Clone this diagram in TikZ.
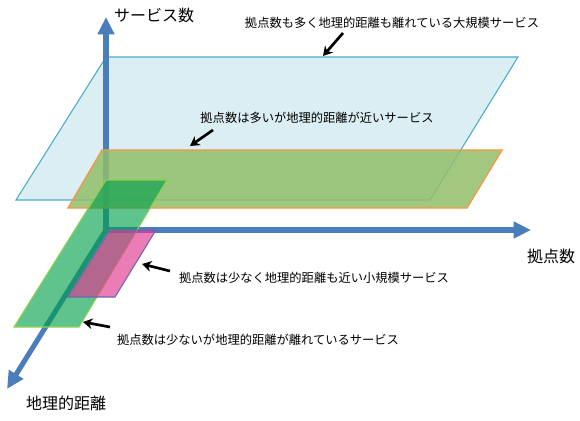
\documentclass[tikz,border=0pt]{standalone}
\usepackage{fontspec}
\setmainfont{Noto Sans CJK JP}
\usetikzlibrary{arrows.meta}
\definecolor{axisblue}{HTML}{4A7EBB}
\definecolor{bluefill}{HTML}{DBEEF4}
\definecolor{blueline}{HTML}{4BACC6}
\definecolor{greenfill}{HTML}{92BE6A}
\definecolor{orangeline}{HTML}{F79646}
\definecolor{stripfill}{HTML}{00A04A}
\definecolor{stripline}{HTML}{92D050}
\definecolor{pinkfill}{HTML}{E2358F}
\definecolor{pinkline}{HTML}{7066B0}

\begin{document}
\begin{tikzpicture}[x=0.75pt,y=-0.75pt,
    axis/.style={line width=3.8pt, axisblue, -{Triangle[length=13pt,width=12pt]}},
    note/.style={line width=2pt, -{Stealth[length=7pt,width=8pt]}},
    small/.style={font=\fontsize{9.2}{11}\selectfont},
    big/.style={font=\fontsize{12}{14}\selectfont}]
        \useasboundingbox (0,0) rectangle (580,420);
        % large plane
        \draw[fill=bluefill, draw=blueline, line width=0.8pt] (16,200) -- (430,200) -- (518,57) -- (106,57) -- cycle;
        % axes
        \coordinate (O) at (106,230);
        \coordinate (ytip) at (106,17);
        \coordinate (xtip) at (531,230);
        \coordinate (ztip) at (7,389);
        \draw[axis] (O) -- (ytip);
        \draw[axis] (O) -- (xtip);
        \draw[axis] (O) -- (ztip);
        % other planes
        \draw[fill=greenfill, fill opacity=0.85, draw=orangeline, line width=1pt] (68,208) -- (467,208) -- (502,150) -- (102,150) -- cycle;
        \draw[fill=stripfill, fill opacity=0.63, draw=stripline, line width=0.8pt] (14,327) -- (79,327) -- (167,180) -- (106,180) -- cycle;
        \draw[fill=pinkfill, fill opacity=0.65, draw=pinkline, line width=0.8pt] (68,297) -- (115,297) -- (156,230) -- (110,230) -- cycle;
        % axis labels
        \node[big] (ylabel) at (154,15) {サービス数};
        \node[big] (xlabel) at (551,256) {拠点数};
        \node[big] (zlabel) at (66,403) {地理的距離};
        % notes
        \node[small] (tbig) at (392,23) {拠点数も多く地理的距離も離れている大規模サービス};
        \node[small] (tnear) at (317,118) {拠点数は多いが地理的距離が近いサービス};
        \node[small] (tsmall) at (314,278) {拠点数は少なく地理的距離も近い小規模サービス};
        \node[small] (tfar) at (258,340) {拠点数は少ないが地理的距離が離れているサービス};
        \coordinate (a1) at (343,33);  \coordinate (b1) at (323,56);
        \coordinate (a2) at (213,130); \coordinate (b2) at (190,146);
        \coordinate (a3) at (170,271); \coordinate (b3) at (142,264);
        \coordinate (a4) at (110,327); \coordinate (b4) at (83,322);
        \draw[note] (a1) -- (b1);
        \draw[note] (a2) -- (b2);
        \draw[note] (a3) -- (b3);
        \draw[note] (a4) -- (b4);
\end{tikzpicture}
\end{document}
